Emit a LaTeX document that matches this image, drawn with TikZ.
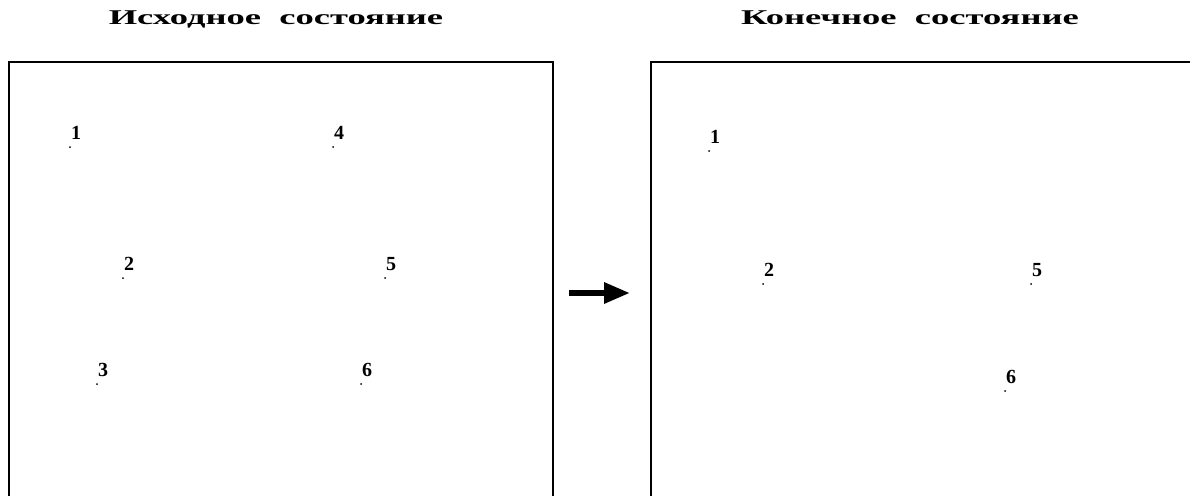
\documentclass[tikz,border=0pt]{standalone}
\usepackage{fontspec}
\usepackage{graphicx}
\setmainfont{Liberation Serif}
\newfontfamily\titlefont{Liberation Serif}
\usetikzlibrary{arrows.meta}
\tikzset{
  titletext/.style={inner sep=0pt, font=\titlefont\bfseries\fontsize{21}{21}\selectfont},
  frameline/.style={line width=2pt, black},
  pt/.style={circle, fill=black, inner sep=0pt, minimum size=2pt},
  lbl/.style={font=\bfseries\fontsize{20}{20}\selectfont, inner sep=0pt},
  bigarrow/.style={line width=6pt, -{Triangle[length=26pt,width=20pt]}}
}
\begin{document}
\begin{tikzpicture}[x=1pt,y=-1pt]
\useasboundingbox (0,0) rectangle (1190,495);
% titles
\node[titletext, anchor=base] (t1) at (276,25) {\scalebox{1.74}[1]{Исходное\ \ состояние}};
\node[titletext, anchor=base] (t2) at (910,25) {\scalebox{1.74}[1]{Конечное\ \ состояние}};
% frames
\draw[frameline] (9,496) -- (9,62) -- (553,62) -- (553,496);
\draw[frameline] (651,496) -- (651,62) -- (1192,62);
% arrow
\coordinate (a1) at (569,293);
\coordinate (a2) at (630,293);
\draw[bigarrow] (a1) -- (a2);
% left points
\foreach \n/\x/\y in {1/70/147, 4/333/147, 2/123/278, 5/385/278, 3/97/384, 6/361/384}{
  \node[pt] (L\n) at (\x,\y) {};
  \node[lbl] (LL\n) at (\x+6,\y-14) {\n};
}
% right points
\foreach \n/\x/\y in {1/709/151, 2/763/284, 5/1031/284, 6/1005/391}{
  \node[pt] (R\n) at (\x,\y) {};
  \node[lbl] (RL\n) at (\x+6,\y-14) {\n};
}
\end{tikzpicture}
\end{document}
